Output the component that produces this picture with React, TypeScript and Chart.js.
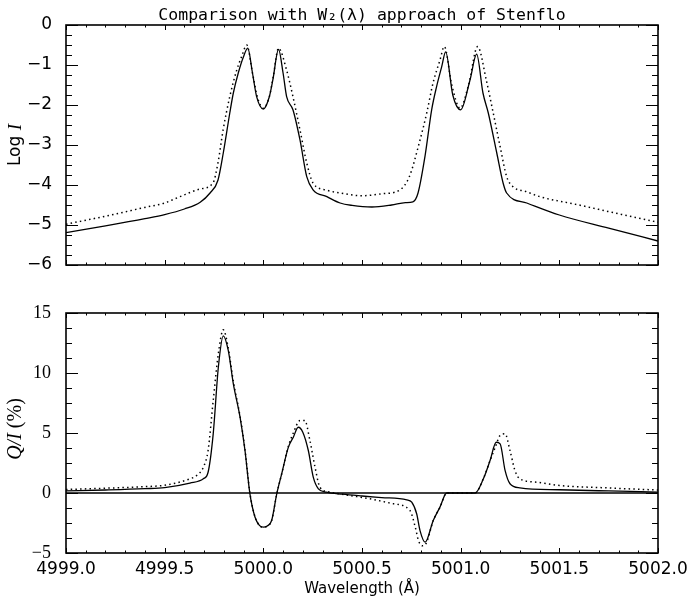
import React, { useEffect, useRef } from "react";
import { Chart, registerables } from "chart.js";
Chart.register(...registerables);

const TITLE = "Comparison with W\u2082(\u03bb) approach of Stenflo";
const X_TITLE = "Wavelength (\u00c5)";
const WAVE_MIN = 4999.0;
const WAVE_MAX = 5002.0;

// Top panel: Log I
const logIWave = [4999.0, 4999.2, 4999.4, 4999.5, 4999.6, 4999.68, 4999.73, 4999.77, 4999.797, 4999.83, 4999.848, 4999.873, 4999.899, 4999.921, 4999.945, 4999.966, 5000.0, 5000.03, 5000.048, 5000.077, 5000.1, 5000.118, 5000.15, 5000.186, 5000.22, 5000.252, 5000.322, 5000.389, 5000.45, 5000.55, 5000.65, 5000.72, 5000.758, 5000.784, 5000.819, 5000.853, 5000.878, 5000.904, 5000.924, 5000.96, 5001.0, 5001.047, 5001.081, 5001.113, 5001.14, 5001.183, 5001.215, 5001.233, 5001.335, 5001.5, 5001.75, 5002.0];
const logISolid = [-5.19, -5.02, -4.84, -4.74, -4.6, -4.43, -4.2, -3.88, -3.2, -2.2, -1.7, -1.2, -0.8, -0.58, -1.2, -1.79, -2.1, -1.8, -1.38, -0.61, -1.2, -1.79, -2.12, -2.88, -3.79, -4.12, -4.29, -4.45, -4.51, -4.55, -4.5, -4.44, -4.42, -4.2, -3.29, -2.12, -1.54, -1.04, -0.67, -1.75, -2.12, -1.38, -0.73, -1.7, -2.2, -3.2, -3.95, -4.2, -4.45, -4.75, -5.08, -5.4];

const logIDotWave = [4999.0, 4999.2, 4999.4, 4999.5, 4999.578, 4999.68, 4999.745, 4999.77, 4999.796, 4999.83, 4999.865, 4999.89, 4999.916, 4999.945, 4999.97, 5000.0, 5000.03, 5000.05, 5000.077, 5000.118, 5000.15, 5000.186, 5000.22, 5000.252, 5000.322, 5000.389, 5000.5, 5000.6, 5000.69, 5000.74, 5000.79, 5000.828, 5000.86, 5000.895, 5000.917, 5000.955, 5000.997, 5001.04, 5001.086, 5001.13, 5001.165, 5001.2, 5001.233, 5001.265, 5001.335, 5001.4, 5001.6, 5001.8, 5002.0];
const logIDotted = [-4.98, -4.78, -4.56, -4.45, -4.29, -4.1, -3.95, -3.45, -2.63, -1.79, -1.13, -0.79, -0.5, -1.2, -1.8, -2.08, -1.8, -1.3, -0.58, -1.13, -1.79, -2.63, -3.45, -3.95, -4.13, -4.2, -4.27, -4.22, -4.13, -3.79, -2.95, -2.2, -1.45, -0.88, -0.54, -1.5, -2.08, -1.5, -0.54, -1.38, -2.2, -3.04, -3.79, -4.04, -4.17, -4.29, -4.5, -4.72, -4.93];

// Bottom panel: Q/I (%)
const qiWave = [4999.0, 4999.2, 4999.4, 4999.5, 4999.628, 4999.696, 4999.72, 4999.746, 4999.772, 4999.797, 4999.822, 4999.848, 4999.882, 4999.907, 4999.932, 4999.958, 4999.98, 5000.0, 5000.02, 5000.042, 5000.068, 5000.093, 5000.127, 5000.152, 5000.177, 5000.2, 5000.228, 5000.253, 5000.279, 5000.32, 5000.4, 5000.5, 5000.6, 5000.727, 5000.752, 5000.777, 5000.794, 5000.82, 5000.861, 5000.895, 5000.929, 5001.0, 5001.073, 5001.115, 5001.149, 5001.18, 5001.2, 5001.225, 5001.25, 5001.3, 5001.5, 5001.75, 5002.0];
const qiSolid = [0.17, 0.25, 0.36, 0.45, 0.82, 1.18, 1.73, 4.93, 10.48, 13.1, 11.9, 9.1, 6.32, 3.54, -0.07, -2.02, -2.7, -2.85, -2.75, -2.29, -0.07, 1.6, 3.82, 4.65, 5.48, 5.07, 3.54, 1.32, 0.35, 0.07, -0.1, -0.25, -0.38, -0.57, -0.77, -1.73, -3.13, -4.1, -2.29, -1.18, 0.0, 0.0, 0.0, 1.18, 2.71, 4.23, 4.1, 1.88, 0.77, 0.43, 0.27, 0.17, 0.08];

const qiDotWave = [4999.0, 4999.2, 4999.4, 4999.5, 4999.628, 4999.662, 4999.696, 4999.72, 4999.746, 4999.772, 4999.797, 4999.822, 4999.848, 4999.882, 4999.907, 4999.932, 4999.958, 4999.98, 5000.0, 5000.02, 5000.042, 5000.068, 5000.093, 5000.127, 5000.152, 5000.186, 5000.21, 5000.236, 5000.262, 5000.287, 5000.338, 5000.44, 5000.54, 5000.66, 5000.743, 5000.77, 5000.786, 5000.805, 5000.825, 5000.861, 5000.895, 5000.929, 5001.073, 5001.115, 5001.149, 5001.175, 5001.2, 5001.225, 5001.25, 5001.275, 5001.3, 5001.385, 5001.5, 5001.75, 5002.0];
const qiDotted = [0.29, 0.4, 0.53, 0.65, 1.18, 1.46, 2.15, 3.54, 7.71, 11.6, 13.6, 12.1, 9.3, 6.4, 3.6, 0.0, -2.0, -2.7, -2.85, -2.75, -2.3, -0.1, 1.6, 3.9, 5.0, 6.04, 6.04, 4.38, 2.15, 0.48, 0.07, -0.21, -0.48, -0.9, -1.46, -2.85, -3.96, -4.4, -4.2, -2.3, -1.2, 0.0, 0.0, 1.2, 2.7, 3.8, 4.8, 4.93, 3.54, 1.88, 1.18, 0.9, 0.63, 0.42, 0.25];

const zeroLineWave = [WAVE_MIN, WAVE_MAX];
const zeroLineValue = [0, 0];

const toPts = (xs: number[], ys: number[]) => xs.map((x, i) => ({ x, y: ys[i] }));
const minusFmt = (v: any) => {
  const n = Number(v);
  if (Math.abs(n) < 1e-9) return "0";
  return n < 0 ? "\u2212" + String(Math.abs(n)) : String(n);
};

function framePlugin(minorX: number, majorX: number, minorY: number, majorY: number, yMajLen: number, yMinLen: number) {
  return {
    id: "frameTicks",
    afterDatasetsDraw(chart: any) {
      const { ctx, chartArea: a, scales } = chart;
      const xs = scales.x, ys = scales.y;
      ctx.save();
      ctx.strokeStyle = "#000";
      ctx.lineWidth = 1;
      ctx.beginPath();
      const nx = Math.round((xs.max - xs.min) / minorX);
      for (let i = 0; i <= nx; i++) {
        const v = xs.min + i * minorX;
        const r = v / majorX;
        const major = Math.abs(r - Math.round(r)) < 1e-6;
        const L = major ? 5 : 2.5;
        const px = Math.round(xs.getPixelForValue(v)) + 0.5;
        ctx.moveTo(px, a.bottom);
        ctx.lineTo(px, a.bottom - L);
        ctx.moveTo(px, a.top);
        ctx.lineTo(px, a.top + L);
      }
      const ny = Math.round((ys.max - ys.min) / minorY);
      for (let i = 0; i <= ny; i++) {
        const v = ys.min + i * minorY;
        const r = v / majorY;
        const major = Math.abs(r - Math.round(r)) < 1e-6;
        const L = major ? yMajLen : yMinLen;
        const py = Math.round(ys.getPixelForValue(v)) + 0.5;
        ctx.moveTo(a.left, py);
        ctx.lineTo(a.left + L, py);
        ctx.moveTo(a.right, py);
        ctx.lineTo(a.right - L, py);
      }
      ctx.stroke();
      ctx.lineWidth = 1.6;
      ctx.strokeRect(a.left, a.top, a.right - a.left, a.bottom - a.top);
      ctx.restore();
    },
  };
}

function drawRotatedParts(ctx: any, cx: number, cy: number, parts: { t: string; f: string }[]) {
  ctx.save();
  ctx.translate(cx, cy);
  ctx.rotate(-Math.PI / 2);
  ctx.fillStyle = "#000";
  ctx.textBaseline = "middle";
  ctx.textAlign = "left";
  let total = 0;
  const widths = parts.map((p) => {
    ctx.font = p.f;
    const w = ctx.measureText(p.t).width;
    total += w;
    return w;
  });
  let x = -total / 2;
  parts.forEach((p, i) => {
    ctx.font = p.f;
    ctx.fillText(p.t, x, 0);
    x += widths[i];
  });
  ctx.restore();
}

const lineStyle = (dotted: boolean) => ({
  borderColor: "#000",
  borderWidth: dotted ? 1.5 : 1.3,
  borderDash: dotted ? [1.5, 3.2] : [],
  pointRadius: 0,
  fill: false,
  cubicInterpolationMode: "monotone" as const,
});

export default function App() {
  const topRef = useRef<HTMLCanvasElement>(null);
  const botRef = useRef<HTMLCanvasElement>(null);

  useEffect(() => {
    const top = new Chart(topRef.current as HTMLCanvasElement, {
      type: "line",
      data: {
        datasets: [
          { data: toPts(logIWave, logISolid), ...lineStyle(false) },
          { data: toPts(logIDotWave, logIDotted), ...lineStyle(true) },
        ],
      },
      options: {
        animation: false,
        responsive: false,
        devicePixelRatio: 1,
        layout: { padding: { left: 0, right: 30, top: 25, bottom: 0 } },
        plugins: { legend: { display: false }, tooltip: { enabled: false }, title: { display: false } },
        scales: {
          x: {
            type: "linear", min: WAVE_MIN, max: WAVE_MAX,
            grid: { display: false }, border: { display: false },
            ticks: { display: false },
            afterFit: (s: any) => { s.height = 25; },
          },
          y: {
            type: "linear", min: -6, max: 0,
            grid: { display: false }, border: { display: false },
            ticks: { stepSize: 1, padding: 6, color: "#000", font: { family: "DejaVu Sans", size: 17 }, callback: minusFmt },
            afterFit: (s: any) => { s.width = 66; },
          },
        },
      },
      plugins: [
        framePlugin(0.1, 0.5, 0.25, 1, 12, 6),
        {
          id: "labelsTop",
          afterDraw(chart: any) {
            const { ctx, chartArea: a } = chart;
            ctx.save();
            ctx.fillStyle = "#000";
            ctx.font = '16.5px "DejaVu Sans Mono"';
            ctx.textAlign = "center";
            ctx.textBaseline = "alphabetic";
            ctx.fillText(TITLE, (a.left + a.right) / 2, 20);
            ctx.restore();
            drawRotatedParts(ctx, 16, (a.top + a.bottom) / 2, [
              { t: "Log ", f: '17px "DejaVu Sans"' },
              { t: "I", f: 'italic 19px "Liberation Serif"' },
            ]);
          },
        },
      ],
    } as any);

    const bot = new Chart(botRef.current as HTMLCanvasElement, {
      type: "line",
      data: {
        datasets: [
          { data: toPts(zeroLineWave, zeroLineValue), ...lineStyle(false), cubicInterpolationMode: "default", borderWidth: 1.5 },
          { data: toPts(qiWave, qiSolid), ...lineStyle(false) },
          { data: toPts(qiDotWave, qiDotted), ...lineStyle(true) },
        ],
      },
      options: {
        animation: false,
        responsive: false,
        devicePixelRatio: 1,
        layout: { padding: { left: 0, right: 30, top: 23, bottom: 0 } },
        plugins: { legend: { display: false }, tooltip: { enabled: false }, title: { display: false } },
        scales: {
          x: {
            type: "linear", min: WAVE_MIN, max: WAVE_MAX,
            grid: { display: false }, border: { display: false },
            ticks: {
              stepSize: 0.5, padding: -2, color: "#000", maxRotation: 0, autoSkip: false,
              font: { family: "DejaVu Sans", size: 17 },
              callback: (v: any) => Number(v).toFixed(1),
            },
            title: { display: true, text: X_TITLE, color: "#000", font: { family: "DejaVu Sans", size: 15 }, padding: { top: 0, bottom: 8 } },
            afterFit: (s: any) => { s.height = 53; },
          },
          y: {
            type: "linear", min: -5, max: 15,
            grid: { display: false }, border: { display: false },
            ticks: { stepSize: 5, padding: 7, color: "#000", font: { family: "Liberation Serif", size: 18 }, callback: minusFmt },
            afterFit: (s: any) => { s.width = 66; },
          },
        },
      },
      plugins: [
        framePlugin(0.1, 0.5, 1.25, 5, 12, 6),
        {
          id: "labelsBot",
          afterDraw(chart: any) {
            const { ctx, chartArea: a } = chart;
            drawRotatedParts(ctx, 16, (a.top + a.bottom) / 2 - 4, [
              { t: "Q/I", f: 'italic 20px "Liberation Serif"' },
              { t: " (%)", f: '20px "Liberation Serif"' },
            ]);
          },
        },
      ],
    } as any);

    return () => {
      top.destroy();
      bot.destroy();
    };
  }, []);

  return (
    <div style={{ position: "absolute", left: 0, top: 0, width: 688, height: 606, background: "#fff" }}>
      <canvas ref={topRef} width={688} height={290} style={{ position: "absolute", left: 0, top: 0, display: "block" }} />
      <canvas ref={botRef} width={688} height={316} style={{ position: "absolute", left: 0, top: 290, display: "block" }} />
    </div>
  );
}
